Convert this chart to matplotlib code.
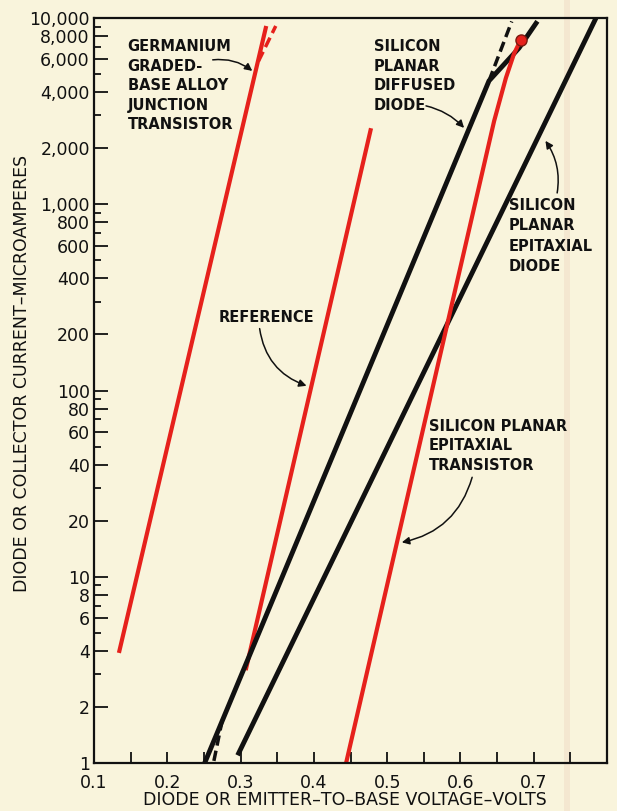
"""
二极管 / 晶体管 正向伏安特性对比图（半对数坐标）
横轴为电压（线性），纵轴为电流（对数，微安）。
"""

import matplotlib
matplotlib.use("Agg")
import matplotlib.pyplot as plt
from matplotlib.patches import Rectangle

# ---- 数据（从原图读取的折线端点 / 拐点） ----
# 锗 渐变基区合金结晶体管（红色），顶端有一段虚线分支
ge_v = [0.134, 0.335]
ge_i = [3.9, 9060]
ge_dash_v = [0.3245, 0.348]
ge_dash_i = [5870, 9060]

# 参考线（红色）
ref_v = [0.307, 0.478]
ref_i = [3.15, 2560]

# 硅平面扩散二极管（黑色），高电流处弯曲，虚线为直线外推
diff_v = [0.251, 0.639, 0.680, 0.705]
diff_i = [1.0, 4600, 6900, 9600]
diff_dash_v = [0.639, 0.670]
diff_dash_i = [4600, 9580]
diff_low_dash_v = [0.275, 0.263]
diff_low_dash_i = [1.7, 1.0]

# 硅平面外延二极管（黑色）
epi_v = [0.296, 0.785]
epi_i = [1.1, 10000]

# 硅平面外延晶体管（红色）
tr_v = [0.444, 0.646, 0.662, 0.673, 0.682]
tr_i = [1.0, 2800, 4760, 6410, 7600]

# 坐标刻度
x_ticks = [0.1, 0.2, 0.3, 0.4, 0.5, 0.6, 0.7]
x_tick_labels = ["0.1", "0.2", "0.3", "0.4", "0.5", "0.6", "0.7"]
x_minor = [0.15, 0.25, 0.35, 0.45, 0.55, 0.65, 0.75]
y_ticks = [1, 2, 4, 6, 8, 10, 20, 40, 60, 80, 100, 200, 400, 600, 800,
           1000, 2000, 4000, 6000, 8000, 10000]
y_tick_labels = ["1", "2", "4", "6", "8", "10", "20", "40", "60", "80", "100",
                 "200", "400", "600", "800", "1,000", "2,000", "4,000",
                 "6,000", "8,000", "10,000"]
y_minor = [3, 5, 7, 9, 30, 50, 70, 90, 300, 500, 700, 900, 3000, 5000, 7000, 9000]

PAPER = "#f9f4dc"
RED = "#e6211c"
INK = "#111111"

plt.rcParams["font.family"] = ["DejaVu Sans"]

fig = plt.figure(figsize=(6.17, 8.11), dpi=100, facecolor=PAPER)
ax = fig.add_axes([94 / 617, 1 - 763 / 811, 513 / 617, 745 / 811])
ax.set_facecolor("none")

# 纸张折痕（淡色竖条），放在坐标轴下层
fig.patches.append(Rectangle((564 / 617, 0), 6 / 617, 1, transform=fig.transFigure,
                             facecolor="#f4e7d0", edgecolor="none", zorder=-1))

ax.set_yscale("log")
ax.set_xlim(0.1, 0.8)
ax.set_ylim(1, 10000)

# 曲线
ax.plot(ge_v, ge_i, color=RED, lw=3, solid_capstyle="butt")
ax.plot(ge_dash_v, ge_dash_i, color=RED, lw=2.5, dashes=(3, 1.5))
ax.plot(ref_v, ref_i, color=RED, lw=3, solid_capstyle="butt")
ax.plot(diff_v, diff_i, color=INK, lw=3.5, solid_capstyle="butt")
ax.plot(diff_dash_v, diff_dash_i, color=INK, lw=2.5, dashes=(3, 1.5))
ax.plot(diff_low_dash_v, diff_low_dash_i, color=INK, lw=2.5, dashes=(3, 1.5))
ax.plot(epi_v, epi_i, color=INK, lw=3.5, solid_capstyle="butt")
ax.plot(tr_v, tr_i, color=RED, lw=3, solid_capstyle="butt")
ax.plot(tr_v[-1:], tr_i[-1:], "o", color=RED, ms=8, mec="#7a1a10", mew=1)

# 刻度
ax.set_xticks(x_ticks)
ax.set_xticklabels(x_tick_labels)
ax.set_xticks(x_minor, minor=True)
ax.set_yticks(y_ticks)
ax.set_yticklabels(y_tick_labels)
ax.set_yticks(y_minor, minor=True)
ax.yaxis.set_minor_formatter(matplotlib.ticker.NullFormatter())

ax.tick_params(axis="both", which="both", direction="in", colors=INK,
               labelsize=12.5, width=1.3)
ax.tick_params(axis="x", which="both", length=8, pad=8)
ax.tick_params(axis="y", which="major", length=10, pad=3)
ax.tick_params(axis="y", which="minor", length=5)
for s in ax.spines.values():
    s.set_linewidth(1.6)
    s.set_color(INK)

# 坐标轴标题
fig.text(22 / 617, 1 - 373 / 811, "DIODE OR COLLECTOR CURRENT–MICROAMPERES",
         rotation=90, ha="center", va="center", fontsize=12.5, color=INK)
fig.text(345 / 617, 1 - 800 / 811, "DIODE OR EMITTER–TO–BASE VOLTAGE–VOLTS",
         ha="center", va="center", fontsize=12.5, color=INK)

# 注释文字与箭头
arrow = dict(arrowstyle="-|>", color=INK, lw=1.1, mutation_scale=11,
             shrinkA=0, shrinkB=0)
txt = dict(fontsize=10.5, fontweight="bold", color=INK, ha="left", va="top",
           linespacing=1.38)

ax.text(0.146, 7710, "GERMANIUM\nGRADED-\nBASE ALLOY\nJUNCTION\nTRANSISTOR", **txt)
ax.annotate("", xy=(0.316, 5200), xytext=(0.262, 5960),
            arrowprops=dict(connectionstyle="arc3,rad=-0.2", **arrow))

ax.text(0.482, 7710, "SILICON\nPLANAR\nDIFFUSED\nDIODE", **txt)
ax.annotate("", xy=(0.605, 2570), xytext=(0.553, 3375),
            arrowprops=dict(connectionstyle="arc3,rad=-0.15", **arrow))

ax.text(0.666, 1080, "SILICON\nPLANAR\nEPITAXIAL\nDIODE", fontsize=10.5,
        fontweight="bold", color=INK, ha="left", va="top", linespacing=1.45)
ax.annotate("", xy=(0.716, 2190), xytext=(0.732, 1150),
            arrowprops=dict(connectionstyle="arc3,rad=0.2", **arrow))

ax.text(0.270, 246, "REFERENCE", fontsize=10.5, fontweight="bold", color=INK,
        ha="left", va="center")
ax.annotate("", xy=(0.390, 106), xytext=(0.326, 215),
            arrowprops=dict(connectionstyle="arc3,rad=0.3", **arrow))

ax.text(0.557, 70.7, "SILICON PLANAR\nEPITAXIAL\nTRANSISTOR", **txt)
ax.annotate("", xy=(0.520, 15.3), xytext=(0.616, 34.2),
            arrowprops=dict(connectionstyle="arc3,rad=-0.3", **arrow))

fig.savefig("out.png", dpi=100, facecolor=PAPER)
plt.close(fig)
